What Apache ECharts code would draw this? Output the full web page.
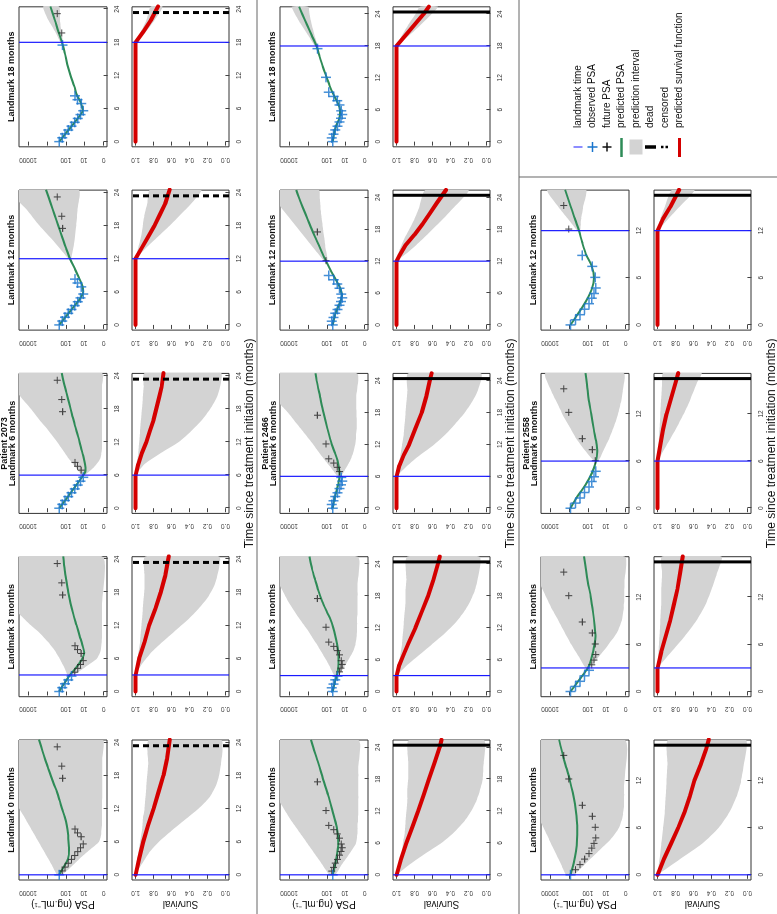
<!DOCTYPE html>
<html><head><meta charset="utf-8">
<script src="https://cdn.jsdelivr.net/npm/echarts@6/dist/echarts.min.js"></script>
<style>
html,body{margin:0;padding:0;background:#fff;overflow:hidden;width:777px;height:914px;}
#chart{position:absolute;left:0;top:0;width:914px;height:777px;transform-origin:0 0;transform:translate(0px,914px) rotate(-90deg);background:#fff;}
</style></head>
<body><div id="chart"></div>
<script>
// ---------------- DATA ----------------
const patientIds = ['2073', '2466', '2558'];
const landmarkMonths = [0, 3, 6, 12, 18];
const timeTickValues = [0, 6, 12, 18, 24];
const psaTickValues = [0, 10, 100, 1000, 10000];
const psaTickLabels = ['0', '10', '100', '', '10000'];
const survivalTickValues = [0, 0.2, 0.4, 0.6, 0.8, 1.0];
const followUpEnd = [23.5, 24.4, 16.5];
const eventTimes = [23.4, 24.4, 16.5];
const eventKinds = ['censored', 'dead', 'dead'];
const legendLabels = ['landmark time', 'observed PSA', 'future PSA', 'predicted PSA', 'prediction interval', 'dead', 'censored', 'predicted survival function'];

// PSA values are log10(PSA + 1)
const obsTime2073 = [0, 0.7, 1.4, 2.1, 2.8, 3.5, 4.2, 4.9, 5.6, 6.9, 7.6, 8.3, 17.5, 19.7, 23.2];
const obsLogPsa2073 = [2.35, 2.19, 2.04, 1.87, 1.7, 1.53, 1.37, 1.22, 1.08, 1.19, 1.38, 1.51, 2.17, 2.22, 2.45];
const obsTime2466 = [0, 0.7, 1.4, 2.2, 2.9, 3.7, 4.4, 5.1, 5.8, 6.9, 7.7, 8.5, 9.3, 12.1, 17.5];
const obsLogPsa2466 = [1.69, 1.74, 1.65, 1.55, 1.43, 1.33, 1.25, 1.19, 1.24, 1.33, 1.45, 1.63, 1.9, 2.04, 2.5];
const obsTime2558 = [0, 0.65, 1.3, 2.0, 2.7, 3.4, 4.0, 4.7, 6.05, 7.45, 8.85, 12.2, 15.2];
const obsLogPsa2558 = [2.92, 2.65, 2.42, 2.17, 1.94, 1.79, 1.67, 1.58, 1.61, 1.76, 2.29, 3.01, 3.27];

// predicted PSA [time, log10(PSA+1)] and prediction interval [time, low, high]
const predPsa2073_lm0 = [[0,2.35],[1.5,2.1],[3,1.88],[4.5,1.83],[6,1.86],[7.5,1.88],[9,1.95],[10.5,2.06],[12,2.2],[13.5,2.33],[15,2.47],[16.5,2.64],[18,2.8],[19.5,2.95],[21,3.1],[22.5,3.24],[24.5,3.42]];
const bandPsa2073_lm0 = [[0,2.2,2.45],[1.5,1.7,2.7],[3,1.25,2.95],[4.5,0.75,3.2],[6,0.25,3.45],[7.5,0.12,3.7],[9,0.09,3.95],[10.5,0.08,4.2],[12,0.08,4.47],[15,0.07,4.9],[18,0.07,5.4],[21,0.07,5.9],[24.5,0.07,6.4]];
const predPsa2073_lm3 = [[0,2.35],[1.5,2.08],[3,1.78],[4.5,1.42],[6,1.12],[7,1.03],[8.5,1.13],[10,1.26],[12,1.43],[14,1.6],[16,1.75],[18,1.87],[20,1.97],[22,2.06],[24.5,2.14]];
const bandPsa2073_lm3 = [[3,1.6,1.9],[4.5,0.95,2.1],[6,0.35,2.33],[7.5,0.15,2.6],[9,0.1,2.95],[10.5,0.08,3.35],[12,0.08,3.85],[14,0.08,4.45],[16,0.08,5.0],[24.5,0.08,6.5]];
const predPsa2073_lm6 = [[0,2.35],[1.5,2.02],[3,1.7],[4.5,1.38],[6,1.08],[6.8,0.96],[8,0.99],[9.5,1.08],[11,1.2],[13,1.35],[15,1.52],[17,1.67],[19,1.82],[21,1.97],[23,2.12],[24.5,2.22]];
const bandPsa2073_lm6 = [[6,1.0,1.15],[7.5,0.5,1.5],[9,0.18,1.85],[10.5,0.1,2.15],[12,0.08,2.45],[14,0.08,2.9],[16,0.08,3.4],[18,0.08,3.85],[20,0.08,4.35],[22,0.08,4.8],[24.5,0.08,5.4]];
const predPsa2073_lm12 = [[0,2.35],[1.5,2.0],[3,1.65],[4.5,1.3],[6,1.08],[7,1.12],[8.5,1.3],[10,1.5],[12,1.78],[14,2.0],[16,2.2],[18,2.4],[20,2.6],[22,2.8],[24.5,3.05]];
const bandPsa2073_lm12 = [[12,1.72,1.85],[15,1.55,2.6],[18,1.45,3.4],[21,1.38,4.1],[24.5,1.32,5.0]];
const predPsa2073_lm18 = [[0,2.35],[1.5,2.0],[3,1.65],[4.5,1.3],[5.7,1.1],[7,1.2],[8.5,1.42],[10,1.55],[12,1.75],[14,1.92],[16,2.05],[18,2.2],[20,2.4],[22,2.58],[24.5,2.82]];
const bandPsa2073_lm18 = [[18,2.15,2.28],[20,2.24,2.58],[22,2.31,2.92],[24.5,2.36,3.2]];

const predPsa2466_lm0 = [[0,1.69],[3,1.5],[6,1.39],[9,1.48],[12,1.7],[15,1.93],[18,2.2],[21,2.45],[24,2.72],[25.4,2.84]];
const bandPsa2466_lm0 = [[0,1.55,1.85],[2,1.2,2.25],[4,0.8,2.65],[6,0.45,3.05],[8,0.37,3.45],[10,0.35,3.85],[12,0.34,4.2],[14,0.33,4.55],[16,0.33,4.9],[20,0.33,5.6],[25.4,0.34,6.5]];
const predPsa2466_lm3 = [[0,1.69],[1.5,1.6],[3,1.48],[4.5,1.4],[6,1.38],[7.5,1.4],[9,1.46],[10.5,1.55],[12,1.66],[13.5,1.8],[15,2.0],[17,2.25],[19,2.45],[21,2.62],[23,2.78],[25.4,2.92]];
const bandPsa2466_lm3 = [[3,1.38,1.6],[4.5,1.1,1.82],[6,0.85,2.05],[7.5,0.62,2.3],[9,0.48,2.55],[10.5,0.42,2.82],[12,0.4,3.1],[14.5,0.38,3.6],[17,0.37,4.05],[20,0.37,4.5],[25.4,0.38,5.4]];
const predPsa2466_lm6 = [[0,1.69],[1.5,1.62],[3,1.5],[4.5,1.4],[6,1.33],[7.5,1.36],[9,1.44],[10.5,1.58],[12,1.74],[15,1.97],[18,2.18],[21,2.36],[24,2.54],[25.4,2.6]];
const bandPsa2466_lm6 = [[6,1.25,1.42],[7.5,1.0,1.75],[9,0.76,2.1],[10.5,0.6,2.42],[12,0.5,2.72],[13.5,0.45,3.05],[15,0.42,3.38],[16.5,0.42,3.72],[18,0.43,4.05],[19.5,0.44,4.45],[21,0.44,4.8],[25.4,0.42,5.7]];
const predPsa2466_lm12 = [[0,1.69],[1.5,1.6],[3,1.45],[4.5,1.27],[5.5,1.2],[7,1.3],[8.5,1.52],[10,1.76],[12,2.04],[14,2.3],[16,2.55],[18,2.8],[20,3.03],[22,3.26],[24,3.48],[25.4,3.62]];
const bandPsa2466_lm12 = [[12,1.96,2.12],[14,2.05,2.6],[16,2.12,3.05],[18,2.2,3.5],[20,2.27,3.95],[22,2.33,4.4],[24,2.38,4.8],[25.4,2.42,5.1]];
const predPsa2466_lm18 = [[0,1.69],[1.5,1.62],[3,1.5],[4.5,1.33],[6,1.3],[7.5,1.45],[9,1.67],[10.5,1.85],[12,2.0],[14,2.2],[16,2.38],[18,2.55],[20,2.8],[22,3.05],[24,3.3],[25.4,3.47]];
const bandPsa2466_lm18 = [[18,2.48,2.62],[20,2.65,2.98],[22,2.8,3.35],[24,2.92,3.68],[25.4,3.0,3.85]];

const predPsa2558_lm0 = [[0,2.92],[1.5,2.75],[3,2.63],[4.5,2.57],[6,2.56],[7.5,2.6],[9,2.68],[10.5,2.8],[12,2.95],[13.5,3.12],[15,3.3],[17.2,3.52]];
const bandPsa2558_lm0 = [[0,2.75,3.15],[1.5,2.1,3.45],[3,1.45,3.75],[4.5,0.8,4.05],[6,0.35,4.35],[7.5,0.15,4.65],[9,0.08,4.95],[12,0.06,5.5],[17.2,0.06,6.4]];
const predPsa2558_lm3 = [[0,2.92],[1.5,2.45],[3,2.0],[4.5,1.78],[6,1.65],[7,1.6],[8.5,1.65],[10,1.72],[12,1.84],[14,2.0],[17.2,2.2]];
const bandPsa2558_lm3 = [[3,1.9,2.12],[4.5,1.4,2.5],[6,0.9,2.88],[7.5,0.45,3.22],[9,0.2,3.55],[10.5,0.1,3.9],[12,0.07,4.2],[14,0.06,4.6],[17.2,0.06,5.3]];
const predPsa2558_lm6 = [[0,2.92],[1.5,2.55],[3,2.12],[4.5,1.78],[6,1.56],[7.2,1.5],[8.5,1.56],[10,1.68],[12,1.82],[14,1.96],[16,2.06],[17.2,2.12]];
const bandPsa2558_lm6 = [[6,1.45,1.65],[7.5,1.15,2.2],[9,0.85,2.65],[10.5,0.6,3.0],[12,0.4,3.35],[13.5,0.25,3.65],[15,0.15,3.95],[17.2,0.1,4.25]];
const predPsa2558_lm12 = [[0,2.92],[1.5,2.5],[3,2.1],[4.5,1.8],[6,1.67],[7.5,1.8],[9,2.1],[10.5,2.3],[12,2.47],[13.5,2.68],[15,2.9],[17.2,3.2]];
const bandPsa2558_lm12 = [[12,2.4,2.55],[13.5,2.35,3.05],[15,2.25,3.55],[17.2,2.1,4.15]];

// predicted survival [time, S] and interval [time, low, high]
const surv2073_lm0 = [[0,1],[3,0.96],[6,0.915],[9,0.86],[12,0.8],[15,0.745],[18,0.69],[21,0.65],[24.5,0.62]];
const survBand2073_lm0 = [[0,1,1],[2,0.93,0.99],[4,0.85,0.97],[6,0.74,0.95],[8,0.6,0.93],[10,0.45,0.92],[12,0.3,0.9],[14,0.18,0.89],[16,0.11,0.88],[18,0.07,0.87],[20,0.05,0.86],[24.5,0.05,0.85]];
const surv2073_lm3 = [[0,1],[3,1],[6,0.96],[9,0.9],[12,0.85],[15,0.78],[18,0.72],[21,0.67],[24.5,0.63]];
const survBand2073_lm3 = [[3,1,1],[5,0.93,0.99],[7,0.83,0.97],[9,0.7,0.95],[11,0.56,0.94],[13,0.42,0.93],[15,0.3,0.92],[17,0.2,0.91],[19,0.13,0.9],[21,0.09,0.9],[24.5,0.07,0.89]];
const surv2073_lm6 = [[0,1],[6,1],[8,0.97],[10,0.93],[12,0.88],[14,0.84],[16,0.8],[18,0.77],[20,0.74],[22,0.71],[24.5,0.69]];
const survBand2073_lm6 = [[6,1,1],[8,0.9,0.99],[10,0.72,0.97],[12,0.52,0.96],[14,0.38,0.95],[16,0.26,0.94],[18,0.17,0.93],[20,0.1,0.92],[22,0.06,0.91],[24.5,0.05,0.9]];
const surv2073_lm12 = [[0,1],[12,1],[14,0.93],[16,0.86],[18,0.79],[20,0.73],[22,0.67],[24.5,0.62]];
const survBand2073_lm12 = [[12,1,1],[14,0.88,0.97],[16,0.75,0.94],[18,0.62,0.92],[20,0.5,0.9],[22,0.38,0.87],[24.5,0.27,0.84]];
const surv2073_lm18 = [[0,1],[18,1],[20,0.91],[22,0.83],[24.5,0.75]];
const survBand2073_lm18 = [[18,1,1],[20,0.88,0.94],[22,0.79,0.88],[24.5,0.7,0.83]];

const surv2466_lm0 = [[0,1],[3,0.95],[6,0.89],[9,0.825],[12,0.76],[15,0.7],[18,0.64],[21,0.58],[24,0.52],[25.4,0.5]];
const survBand2466_lm0 = [[0,1,1],[2,0.85,0.97],[4,0.68,0.94],[6,0.5,0.93],[8,0.36,0.91],[10,0.25,0.9],[12,0.17,0.89],[14,0.11,0.88],[16,0.07,0.88],[18,0.04,0.87],[21,0.03,0.87],[25.4,0.03,0.86]];
const surv2466_lm3 = [[0,1],[3,1],[5,0.97],[7,0.92],[9,0.87],[12,0.79],[15,0.72],[18,0.65],[21,0.59],[24,0.54],[25.4,0.52]];
const survBand2466_lm3 = [[3,1,1],[5,0.88,0.98],[7,0.74,0.96],[9,0.6,0.94],[11,0.46,0.93],[13,0.34,0.92],[15,0.25,0.91],[17,0.18,0.9],[19,0.13,0.9],[21,0.1,0.89],[25.4,0.08,0.88]];
const surv2466_lm6 = [[0,1],[6,1],[8,0.97],[10,0.92],[12,0.86],[15,0.79],[18,0.72],[21,0.67],[24,0.63],[25.4,0.61]];
const survBand2466_lm6 = [[6,1,1],[8,0.88,0.98],[10,0.74,0.96],[12,0.58,0.94],[14,0.45,0.92],[16,0.34,0.91],[18,0.24,0.9],[20,0.16,0.89],[22,0.1,0.88],[25.4,0.06,0.87]];
const surv2466_lm12 = [[0,1],[12,1],[13,0.97],[15,0.9],[17,0.8],[19,0.71],[21,0.63],[23,0.55],[25.4,0.45]];
const survBand2466_lm12 = [[12,1,1],[14,0.85,0.97],[16,0.72,0.92],[18,0.6,0.86],[20,0.48,0.8],[22,0.37,0.75],[25.4,0.2,0.68]];
const surv2466_lm18 = [[0,1],[18,1],[20,0.9],[22,0.8],[24,0.7],[25.4,0.64]];
const survBand2466_lm18 = [[18,1,1],[20,0.86,0.94],[22,0.73,0.87],[24,0.61,0.79],[25.4,0.54,0.74]];

const surv2558_lm0 = [[0,1],[2,0.93],[4,0.85],[6,0.77],[8,0.7],[10,0.64],[12,0.59],[14,0.52],[16,0.46],[17.2,0.43]];
const survBand2558_lm0 = [[0,1,1],[2,0.75,0.98],[4,0.5,0.96],[6,0.32,0.94],[8,0.2,0.92],[10,0.12,0.91],[12,0.07,0.9],[14,0.04,0.89],[17.2,0.02,0.88]];
const surv2558_lm3 = [[0,1],[3,1],[5,0.96],[7,0.91],[9,0.86],[11,0.82],[13,0.78],[15,0.75],[17.2,0.72]];
const survBand2558_lm3 = [[3,1,1],[5,0.85,0.99],[7,0.7,0.98],[9,0.57,0.97],[11,0.47,0.96],[13,0.4,0.96],[15,0.34,0.95],[17.2,0.29,0.95]];
const surv2558_lm6 = [[0,1],[6,1],[8,0.97],[10,0.94],[12,0.9],[14,0.85],[16,0.8],[17.2,0.77]];
const survBand2558_lm6 = [[6,1,1],[8,0.9,0.99],[10,0.8,0.98],[12,0.71,0.97],[14,0.63,0.96],[16,0.56,0.95],[17.2,0.51,0.94]];
const surv2558_lm12 = [[0,1],[12,1],[13.5,0.94],[15,0.86],[17.2,0.76]];
const survBand2558_lm12 = [[12,1,1],[13.5,0.88,0.97],[15,0.76,0.92],[17.2,0.59,0.84]];

// ---------------- TABLES ----------------
const observed = {
  '2073': [obsTime2073, obsLogPsa2073],
  '2466': [obsTime2466, obsLogPsa2466],
  '2558': [obsTime2558, obsLogPsa2558]
};
const panels = {
  '2073': {0:[predPsa2073_lm0,bandPsa2073_lm0,surv2073_lm0,survBand2073_lm0],3:[predPsa2073_lm3,bandPsa2073_lm3,surv2073_lm3,survBand2073_lm3],6:[predPsa2073_lm6,bandPsa2073_lm6,surv2073_lm6,survBand2073_lm6],12:[predPsa2073_lm12,bandPsa2073_lm12,surv2073_lm12,survBand2073_lm12],18:[predPsa2073_lm18,bandPsa2073_lm18,surv2073_lm18,survBand2073_lm18]},
  '2466': {0:[predPsa2466_lm0,bandPsa2466_lm0,surv2466_lm0,survBand2466_lm0],3:[predPsa2466_lm3,bandPsa2466_lm3,surv2466_lm3,survBand2466_lm3],6:[predPsa2466_lm6,bandPsa2466_lm6,surv2466_lm6,survBand2466_lm6],12:[predPsa2466_lm12,bandPsa2466_lm12,surv2466_lm12,survBand2466_lm12],18:[predPsa2466_lm18,bandPsa2466_lm18,surv2466_lm18,survBand2466_lm18]},
  '2558': {0:[predPsa2558_lm0,bandPsa2558_lm0,surv2558_lm0,survBand2558_lm0],3:[predPsa2558_lm3,bandPsa2558_lm3,surv2558_lm3,survBand2558_lm3],6:[predPsa2558_lm6,bandPsa2558_lm6,surv2558_lm6,survBand2558_lm6],12:[predPsa2558_lm12,bandPsa2558_lm12,surv2558_lm12,survBand2558_lm12]}
};

// ---------------- LAYOUT / STYLE ----------------
const FONT = 'Liberation Sans, Arial, Helvetica, sans-serif';
const colLeft0 = 34, colStep = 183.3, boxW = 140;
const rowStep = 261, psaTop0 = 19, psaH = 88, survTop0 = 132, survH = 97;
const psaMin = -0.18, psaMax = 4.48, survMin = -0.04, survMax = 1.04;
const C_LM = '#1a1aff', C_OBS = '#1874CD', C_FUT = '#222222', C_GREEN = '#2E8B57', C_RED = '#D40000', C_BAND = '#d3d3d3';
const PLUS = 'path://M4.25,0H5.75V4.25H10V5.75H5.75V10H4.25V5.75H0V4.25H4.25Z';

const lp = v => Math.log10(v + 1);
const psaTickPos = psaTickValues.map(lp);
const psaLabelPos = psaTickPos.filter((p, i) => psaTickLabels[i] !== '');

const grids = [], xAxes = [], yAxes = [], series = [], gfx = [];

function axisPair(gi, xmin, xmax, kind) {
  const ticks = timeTickValues.filter(t => t <= xmax);
  xAxes.push({
    gridIndex: gi, type: 'value', min: xmin, max: xmax,
    axisLine: {show: false}, splitLine: {show: false},
    axisTick: {show: true, length: 4, customValues: ticks, lineStyle: {color: '#444', width: 1}},
    axisLabel: {show: true, customValues: ticks, fontSize: 6.5, color: '#333', margin: 7, fontFamily: FONT, formatter: v => String(Math.round(v))}
  });
  if (kind === 'psa') {
    yAxes.push({
      gridIndex: gi, type: 'value', min: psaMin, max: psaMax,
      axisLine: {show: false}, splitLine: {show: false},
      axisTick: {show: true, length: 4, customValues: psaTickPos, lineStyle: {color: '#444', width: 1}},
      axisLabel: {show: true, customValues: psaLabelPos, rotate: 90, fontSize: 6.5, color: '#333', margin: 9, fontFamily: FONT,
        formatter: v => { let k = 0, best = 1e9; psaTickPos.forEach((p, i) => { if (Math.abs(p - v) < best) { best = Math.abs(p - v); k = i; } }); return psaTickLabels[k]; }}
    });
  } else {
    yAxes.push({
      gridIndex: gi, type: 'value', min: survMin, max: survMax,
      axisLine: {show: false}, splitLine: {show: false},
      axisTick: {show: true, length: 4, customValues: survivalTickValues, lineStyle: {color: '#444', width: 1}},
      axisLabel: {show: true, customValues: survivalTickValues, rotate: 90, fontSize: 6.5, color: '#333', margin: 9, fontFamily: FONT, formatter: v => v.toFixed(1)}
    });
  }
}

// prediction interval polygon drawn through the axes' scales
function bandSeries(band, gi) {
  return {
    type: 'custom', xAxisIndex: gi, yAxisIndex: gi, clip: true, silent: true, z: 1,
    data: band, encode: {x: 0, y: [1, 2]},
    renderItem: (params, api) => {
      if (params.dataIndex !== 0) return null;
      const pts = [];
      for (let i = 0; i < band.length; i++) pts.push(api.coord([band[i][0], band[i][2]]));
      for (let i = band.length - 1; i >= 0; i--) pts.push(api.coord([band[i][0], band[i][1]]));
      return {type: 'polygon', shape: {points: pts, smooth: 0.2}, style: {fill: C_BAND, stroke: null}};
    }
  };
}

// vertical reference line at a time value, spanning the axis range
function vline(gi, t, yMin, yMax, style, z) {
  return {type: 'line', xAxisIndex: gi, yAxisIndex: gi, data: [[t, yMin], [t, yMax]], symbol: 'none', silent: true, z: z,
    clip: true, lineStyle: style};
}

function text(x, y, str, size, opts) {
  gfx.push(Object.assign({type: 'text', x: x, y: y, z: 100, silent: true,
    style: {text: str, fontSize: size, fontFamily: FONT, fontWeight: (opts && opts.bold) ? 'bold' : 'normal', fill: '#111',
      textAlign: (opts && opts.align) || 'center', textVerticalAlign: 'middle', align: (opts && opts.align) || 'center', verticalAlign: 'middle'}},
    (opts && opts.rotation) ? {rotation: opts.rotation} : {}));
}

let gi = 0;
patientIds.forEach((pid, r) => {
  const T = followUpEnd[r];
  const xmin = -0.04 * T, xmax = 1.04 * T;
  const obsT = observed[pid][0], obsV = observed[pid][1];
  landmarkMonths.forEach((L, c) => {
    const p = panels[pid][L];
    if (!p) return;
    const left = colLeft0 + colStep * c;
    const [pred, band, surv, survBand] = p;

    // PSA panel
    grids.push({left: left, top: psaTop0 + rowStep * r, width: boxW, height: psaH, show: true, borderColor: '#333', borderWidth: 1, backgroundColor: 'transparent', containLabel: false, outerBoundsMode: 'none'});
    axisPair(gi, xmin, xmax, 'psa');
    series.push(bandSeries(band, gi));
    series.push({type: 'line', xAxisIndex: gi, yAxisIndex: gi, data: pred, symbol: 'none', smooth: 0.3, lineStyle: {color: C_GREEN, width: 2}, silent: true, z: 2});
    const obsPast = [], obsFut = [];
    obsT.forEach((t, i) => (t <= L ? obsPast : obsFut).push([t, obsV[i]]));
    series.push({type: 'scatter', xAxisIndex: gi, yAxisIndex: gi, data: obsFut, symbol: PLUS, symbolSize: 7, itemStyle: {color: C_FUT}, silent: true, z: 3});
    series.push({type: 'scatter', xAxisIndex: gi, yAxisIndex: gi, data: obsPast, symbol: PLUS, symbolSize: 10, itemStyle: {color: C_OBS}, silent: true, z: 3});
    series.push(vline(gi, L, psaMin, psaMax, {color: C_LM, width: 1.2}, 4));
    gi++;

    // Survival panel
    grids.push({left: left, top: survTop0 + rowStep * r, width: boxW, height: survH, show: true, borderColor: '#333', borderWidth: 1, backgroundColor: 'transparent', containLabel: false, outerBoundsMode: 'none'});
    axisPair(gi, xmin, xmax, 'surv');
    series.push(bandSeries(survBand, gi));
    series.push({type: 'line', xAxisIndex: gi, yAxisIndex: gi, data: surv, symbol: 'none', smooth: false, lineStyle: {color: C_RED, width: 4, cap: 'round', join: 'round'}, silent: true, z: 2});
    series.push(vline(gi, L, survMin, survMax, {color: C_LM, width: 1.2}, 4));
    series.push(vline(gi, eventTimes[r], survMin, survMax, {color: '#000', width: 3, type: eventKinds[r] === 'dead' ? 'solid' : [6, 4]}, 5));
    gi++;

    // titles
    const cx = left + boxW / 2;
    if (c === 2) {
      text(cx, 4.5 + rowStep * r, 'Patient ' + pid, 9, {bold: true});
      text(cx, 13 + rowStep * r, 'Landmark ' + L + ' months', 9, {bold: true});
      text(cx, 250 + rowStep * r, 'Time since treatment initiation (months)', 12);
    } else {
      text(cx, 12 + rowStep * r, 'Landmark ' + L + ' months', 9, {bold: true});
    }
    if (c === 0) {
      text(10, psaTop0 + psaH / 2 + rowStep * r, 'PSA (ng.mL\u207B\u00B9)', 10, {rotation: Math.PI / 2});
      text(10, survTop0 + survH / 2 + rowStep * r, 'Survival', 10, {rotation: Math.PI / 2});
    }
  });
});

// separators
gfx.push({type: 'line', z: 90, silent: true, shape: {x1: 0, y1: 257, x2: 914, y2: 257}, style: {stroke: '#666', lineWidth: 1}});
gfx.push({type: 'line', z: 90, silent: true, shape: {x1: 0, y1: 519, x2: 914, y2: 519}, style: {stroke: '#666', lineWidth: 1}});
gfx.push({type: 'line', z: 90, silent: true, shape: {x1: 737, y1: 519, x2: 737, y2: 777}, style: {stroke: '#666', lineWidth: 1}});

// legend
const lgX = 767, lgTextX = 786, lgY0 = 578, lgStep = 14.5;
const ly = i => lgY0 + lgStep * i;
gfx.push({type: 'line', z: 100, silent: true, shape: {x1: lgX, y1: ly(0) - 4.5, x2: lgX, y2: ly(0) + 4.5}, style: {stroke: C_LM, lineWidth: 1}});
[[1, C_OBS, 5], [2, '#111', 4.5]].forEach(([i, col, h]) => {
  gfx.push({type: 'line', z: 100, silent: true, shape: {x1: lgX - h, y1: ly(i), x2: lgX + h, y2: ly(i)}, style: {stroke: col, lineWidth: 1.5}});
  gfx.push({type: 'line', z: 100, silent: true, shape: {x1: lgX, y1: ly(i) - h, x2: lgX, y2: ly(i) + h}, style: {stroke: col, lineWidth: 1.5}});
});
gfx.push({type: 'line', z: 100, silent: true, shape: {x1: lgX - 10, y1: ly(3), x2: lgX + 9, y2: ly(3)}, style: {stroke: C_GREEN, lineWidth: 2.5}});
gfx.push({type: 'rect', z: 100, silent: true, shape: {x: lgX - 7.5, y: ly(4) - 6.5, width: 15, height: 13}, style: {fill: C_BAND}});
gfx.push({type: 'line', z: 100, silent: true, shape: {x1: lgX, y1: ly(5) - 5.5, x2: lgX, y2: ly(5) + 5.5}, style: {stroke: '#000', lineWidth: 3.5}});
gfx.push({type: 'line', z: 100, silent: true, shape: {x1: lgX, y1: ly(6) - 4, x2: lgX, y2: ly(6) + 4}, style: {stroke: '#000', lineWidth: 2.5, lineDash: [2.5, 2]}});
gfx.push({type: 'line', z: 100, silent: true, shape: {x1: lgX - 10, y1: ly(7), x2: lgX + 9, y2: ly(7)}, style: {stroke: C_RED, lineWidth: 3}});
legendLabels.forEach((s, i) => text(lgTextX, ly(i), s, 10, {align: 'left'}));

const chart = echarts.init(document.getElementById('chart'), null, {renderer: 'canvas'});
chart.setOption({
  animation: false,
  backgroundColor: '#fff',
  textStyle: {fontFamily: FONT},
  grid: grids, xAxis: xAxes, yAxis: yAxes, series: series,
  graphic: {elements: gfx}
});
</script>
</body></html>
